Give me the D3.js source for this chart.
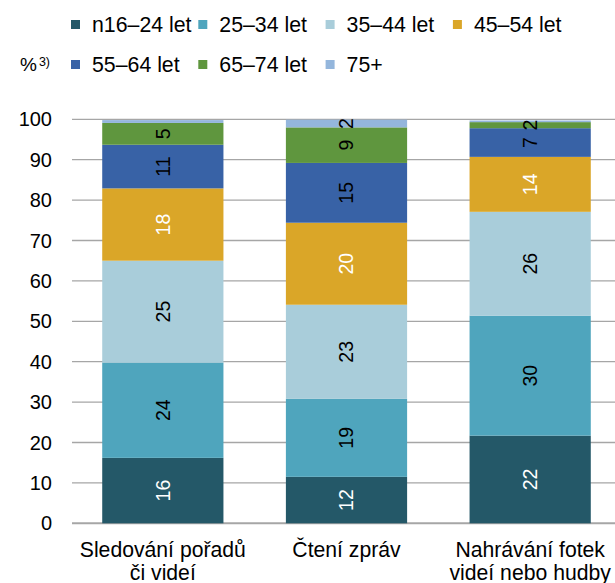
<!DOCTYPE html>
<html>
<head>
<meta charset="utf-8">
<script src="https://cdn.jsdelivr.net/npm/d3@7"></script>
<style>
  body { margin: 0; background: #fff; }
  svg { font-family: "Liberation Sans", Arial, sans-serif; }
</style>
</head>
<body>
<div id="chart"></div>
<script>
// Kategorie (x-Achse), zweizeilig
const categories = ["Sledování pořadů\nči videí", "Čtení zpráv", "Nahrávání fotek\nvideí nebo hudby"];
// Altersgruppen
const groups = ["n16–24 let", "25–34 let", "35–44 let", "45–54 let", "55–64 let", "65–74 let", "75+"];
const colors = ["#245868", "#4fa5bd", "#a9cdda", "#daa628", "#3862a6", "#5f963e", "#94b6dc"];
const labelColors = ["#fff", "#000", "#000", "#fff", "#000", "#000", "#000"];
// Anteile je Kategorie (%)
const values = [
    [16.2, 23.6, 25.2, 17.9, 10.8, 5.4, 0.7],
    [11.5, 19.3, 23.3, 20.3, 14.8, 8.8, 1.9],
    [21.7, 29.7, 25.7, 13.6, 7.1, 1.5, 0.4]
];
const yTicks = [0, 10, 20, 30, 40, 50, 60, 70, 80, 90, 100];

const width = 615, height = 583;

const svg = d3.select("#chart").append("svg")
    .attr("width", width)
    .attr("height", height);

// Plotbereich reicht rechts etwas über den Rand hinaus
const x = d3.scaleBand()
    .domain(categories)
    .range([71, 622])
    .paddingInner(0.34)
    .paddingOuter(0.17);

const y = d3.scaleLinear()
    .domain([0, 100])
    .range([523.3, 119.3]);

// Gitterlinien
svg.selectAll(".grid")
    .data(yTicks)
    .enter().append("line")
    .attr("x1", 72)
    .attr("x2", width)
    .attr("y1", d => y(d))
    .attr("y2", d => y(d))
    .style("stroke", "#a6a6a6")
    .style("stroke-width", d => d === 0 ? 2 : 1.3);

// Achsenbeschriftung
svg.selectAll(".ytick")
    .data(yTicks)
    .enter().append("text")
    .attr("x", 52)
    .attr("y", d => y(d))
    .attr("dy", "0.35em")
    .attr("text-anchor", "end")
    .style("font-size", "20px")
    .text(d => d);

// Stapel berechnen
const rows = categories.map((c, i) => {
    const r = { cat: c };
    groups.forEach((g, j) => r[g] = values[i][j]);
    return r;
});
const series = d3.stack().keys(groups)(rows);

const layer = svg.selectAll(".layer")
    .data(series)
    .enter().append("g")
    .attr("class", "layer")
    .style("fill", (d, i) => colors[i]);

layer.selectAll("rect")
    .data(d => d)
    .enter().append("rect")
    .attr("x", d => x(d.data.cat))
    .attr("width", x.bandwidth())
    .attr("y", d => y(d[1]))
    .attr("height", d => y(d[0]) - y(d[1]));

// Werte (gedreht)
series.forEach((s, i) => {
    svg.selectAll(".val" + i)
        .data(s.filter(d => d[1] - d[0] >= 1))
        .enter().append("text")
        .attr("transform", d => `translate(${x(d.data.cat) + x.bandwidth() / 2},${y((d[0] + d[1]) / 2)}) rotate(-90)`)
        .attr("text-anchor", "middle")
        .attr("dy", "0.35em")
        .style("font-size", "19.5px")
        .style("fill", labelColors[i])
        .text(d => Math.round(d[1] - d[0]));
});

// Kategorien
categories.forEach(c => {
    const t = svg.append("text")
        .attr("text-anchor", "middle")
        .style("font-size", "21.2px");
    c.split("\n").forEach((line, k) => {
        t.append("tspan")
            .attr("x", x(c) + x.bandwidth() / 2)
            .attr("y", 557 + k * 23)
            .text(line);
    });
});

// Legende: feste Spalten wie in Excel
const legendRows = [[0, 1, 2, 3], [4, 5, 6]];
const rowY = [24.5, 64.5];
legendRows.forEach((idx, r) => {
    idx.forEach((i, k) => {
        const cx = 71 + k * 127.3;
        svg.append("rect")
            .attr("x", cx)
            .attr("y", rowY[r] - 4.5)
            .attr("width", 9)
            .attr("height", 9)
            .style("fill", colors[i]);
        svg.append("text")
            .attr("x", cx + 21)
            .attr("y", rowY[r])
            .attr("dy", "0.35em")
            .style("font-size", "21.3px")
            .text(groups[i]);
    });
});

// Einheit
const unit = svg.append("text")
    .attr("x", 20)
    .attr("y", rowY[1])
    .attr("dy", "0.35em")
    .style("font-size", "19px")
    .text("%");
unit.append("tspan")
    .attr("dy", "-5")
    .attr("dx", "2")
    .style("font-size", "12.5px")
    .text("3)");
</script>
</body>
</html>
